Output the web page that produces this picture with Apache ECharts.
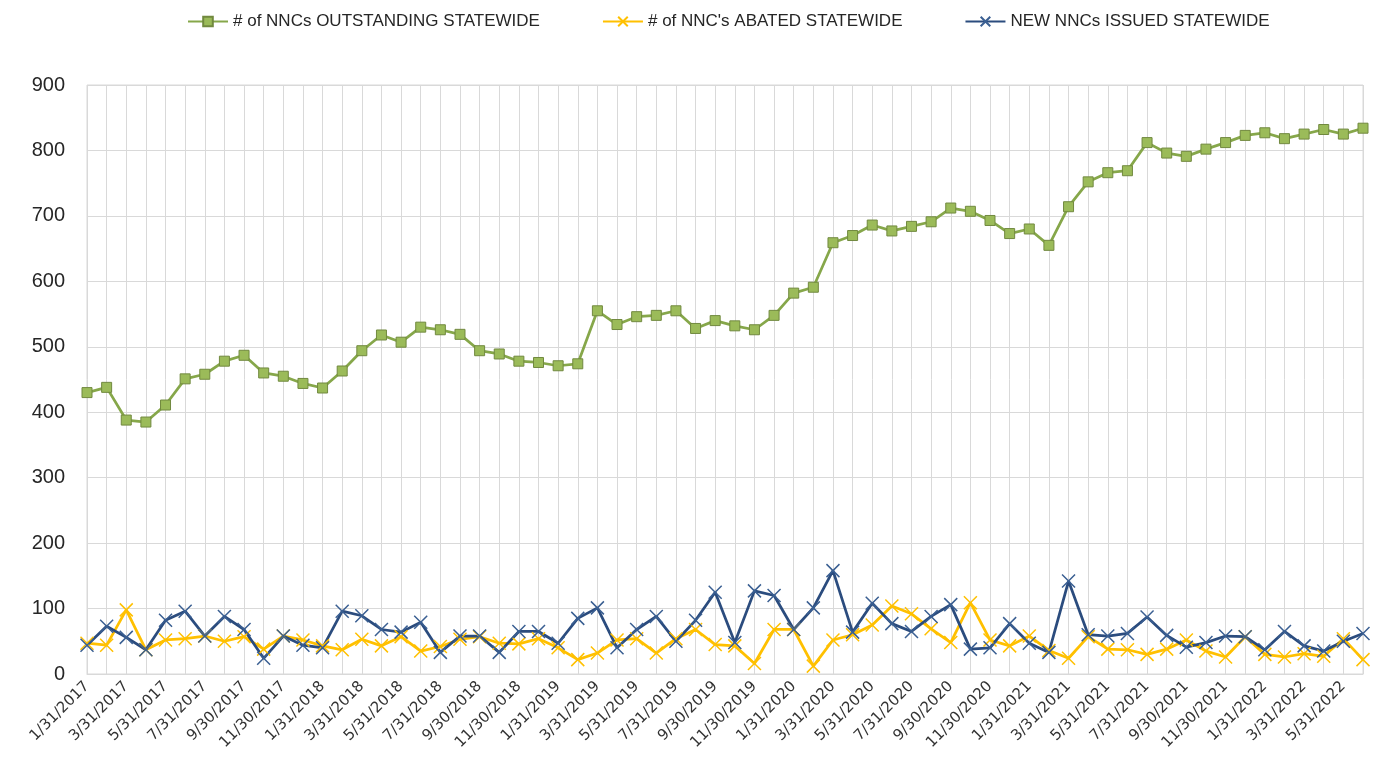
<!DOCTYPE html>
<html>
<head>
<meta charset="utf-8">
<script src="https://cdn.jsdelivr.net/npm/echarts@6/dist/echarts.min.js"></script>
<style>
html,body{margin:0;padding:0;background:#fff;}
#chart{width:1374px;height:769px;}
</style>
</head>
<body>
<div id="chart"></div>
<script>
const categories = [
  "1/31/2017","2/28/2017","3/31/2017","4/30/2017","5/31/2017","6/30/2017","7/31/2017","8/31/2017","9/30/2017","10/31/2017","11/30/2017","12/31/2017",
  "1/31/2018","2/28/2018","3/31/2018","4/30/2018","5/31/2018","6/30/2018","7/31/2018","8/31/2018","9/30/2018","10/31/2018","11/30/2018","12/31/2018",
  "1/31/2019","2/28/2019","3/31/2019","4/30/2019","5/31/2019","6/30/2019","7/31/2019","8/31/2019","9/30/2019","10/31/2019","11/30/2019","12/31/2019",
  "1/31/2020","2/29/2020","3/31/2020","4/30/2020","5/31/2020","6/30/2020","7/31/2020","8/31/2020","9/30/2020","10/31/2020","11/30/2020","12/31/2020",
  "1/31/2021","2/28/2021","3/31/2021","4/30/2021","5/31/2021","6/30/2021","7/31/2021","8/31/2021","9/30/2021","10/31/2021","11/30/2021","12/31/2021",
  "1/31/2022","2/28/2022","3/31/2022","4/30/2022","5/31/2022","6/30/2022"
];

const outstanding = [
  430,438,388,385,411,451,458,478,487,460,455,444,
  437,463,494,518,507,530,526,519,494,489,478,476,
  471,474,555,534,546,548,555,528,540,532,526,548,
  582,591,659,670,686,677,684,691,712,707,693,673,
  680,655,714,752,766,769,812,796,791,802,812,823,
  827,818,825,832,825,834
];

const abated = [
  47,44,98,37,52,54,58,50,57,38,58,52,
  43,37,53,43,57,35,42,53,57,47,46,54,
  40,22,32,52,54,32,54,68,45,43,16,68,
  68,12,52,60,75,104,92,69,48,109,52,43,
  58,36,24,57,38,37,30,38,52,35,26,57,
  30,26,31,27,54,22
];

const newIssued = [
  44,73,56,37,82,96,58,88,68,24,58,44,
  40,96,89,68,64,79,33,58,58,33,65,65,
  47,85,101,40,68,88,50,82,125,48,127,120,
  68,101,158,64,108,77,65,88,106,38,40,77,
  47,33,142,60,58,62,87,59,41,48,58,57,
  37,65,43,35,50,62
];

const legendNames = ["# of NNCs OUTSTANDING STATEWIDE", "# of NNC's ABATED STATEWIDE", "NEW NNCs ISSUED STATEWIDE"];

const crossPath = 'path://M0,0L10,10M10,0L0,10';

const chart = echarts.init(document.getElementById('chart'), null, {renderer: 'canvas'});
chart.setOption({
  animation: false,
  backgroundColor: '#ffffff',
  legend: {
    top: 8,
    left: 182,
    itemWidth: 40,
    itemHeight: 12,
    itemGap: 62,
    textStyle: {fontFamily: 'Liberation Sans', fontSize: 17, color: '#262626'},
    data: legendNames
  },
  grid: {
    left: 87, right: 11, top: 85, bottom: 95,
    show: true, borderColor: '#d9d9d9', borderWidth: 1
  },
  xAxis: {
    type: 'category',
    data: categories,
    boundaryGap: false,
    axisLine: {lineStyle: {color: '#d9d9d9'}},
    axisTick: {show: false},
    axisLabel: {
      interval: 1, rotate: 45, margin: 10,
      fontFamily: 'DejaVu Sans', fontSize: 15, color: '#333333'
    },
    splitLine: {show: true, interval: 0, lineStyle: {color: '#d9d9d9', width: 1}}
  },
  yAxis: {
    type: 'value',
    min: 0, max: 900, interval: 100,
    axisLine: {show: false},
    axisTick: {show: false},
    axisLabel: {margin: 22, fontFamily: 'Liberation Sans', fontSize: 20, color: '#262626'},
    splitLine: {lineStyle: {color: '#d9d9d9', width: 1}}
  },
  series: [
    {
      name: legendNames[0], type: 'line', data: outstanding,
      symbol: 'rect', symbolSize: 10, showAllSymbol: true,
      lineStyle: {color: '#86A74A', width: 2.75},
      itemStyle: {color: '#9BBB59', borderColor: '#71893F', borderWidth: 1}
    },
    {
      name: legendNames[1], type: 'line', data: abated,
      symbol: crossPath, symbolSize: 13, showAllSymbol: true,
      lineStyle: {color: '#FFC000', width: 2.75},
      itemStyle: {color: '#FFC000', borderColor: '#FFC000', borderWidth: 1.5}
    },
    {
      name: legendNames[2], type: 'line', data: newIssued,
      symbol: crossPath, symbolSize: 13, showAllSymbol: true,
      lineStyle: {color: '#2B4C7E', width: 2.75},
      itemStyle: {color: '#2B4C7E', borderColor: '#3A5F92', borderWidth: 1.5}
    }
  ]
});
</script>
</body>
</html>
